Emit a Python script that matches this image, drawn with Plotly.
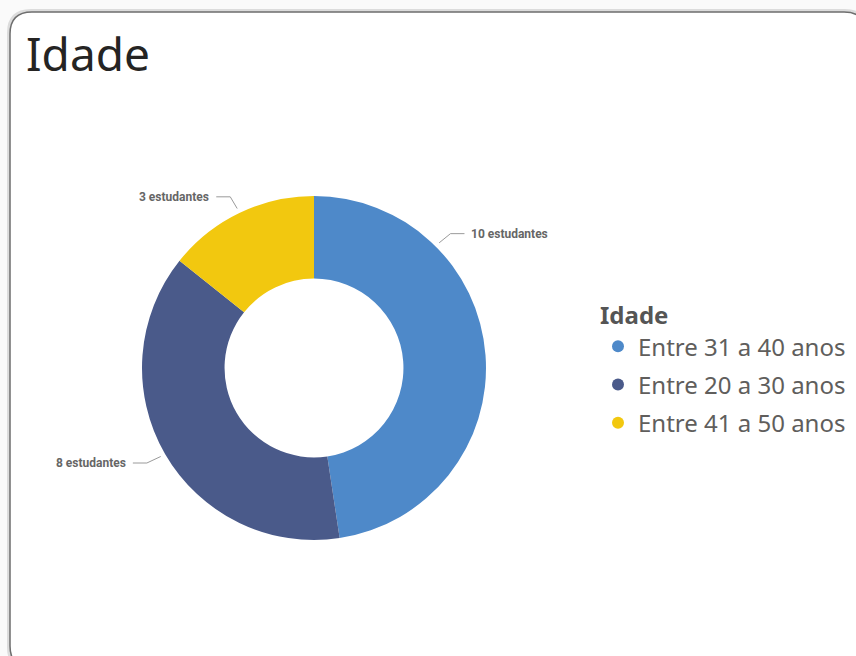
import math
import plotly.graph_objects as go

# Faixas etárias e número de estudantes
faixas = ["Entre 31 a 40 anos", "Entre 20 a 30 anos", "Entre 41 a 50 anos"]
estudantes = [10, 8, 3]
rotulos = [f"{v} estudantes" for v in estudantes]
cores = ["#4E89C9", "#4A5A8A", "#F2C80F"]

W, H = 856, 656
CX, CY, R = 314, 368, 172          # centre and outer radius of the donut (px)
HOLE = 0.52

# label placement: angle (deg, clockwise from 12 o'clock); None = middle of slice
label_angle = [45, None, None]


def px(x):
    return x / W


def py(y):
    return 1 - y / H


fig = go.Figure()

fig.add_trace(go.Pie(
    labels=faixas,
    values=estudantes,
    marker=dict(colors=cores, line=dict(width=0)),
    hole=HOLE,
    sort=False,
    direction="clockwise",
    rotation=0,
    textinfo="none",
    showlegend=False,
    domain=dict(x=[px(CX - R), px(CX + R)], y=[py(CY + R), py(CY - R)]),
    hovertemplate="%{label}: %{value}<extra></extra>",
))

# legend entries with round markers
for nome, cor in zip(faixas, cores):
    fig.add_trace(go.Scatter(
        x=[None], y=[None], mode="markers", name=nome, legendgroup=nome,
        marker=dict(symbol="circle", size=14, color=cor),
        hoverinfo="skip",
    ))

# outside labels with elbow leader lines
shapes = []
annotations = []
total = sum(estudantes)
acc = 0
for i, v in enumerate(estudantes):
    mid = (acc + v / 2) / total * 360
    acc += v
    ang = label_angle[i] if label_angle[i] is not None else mid
    t = math.radians(ang)
    s, c = math.sin(t), math.cos(t)
    x0, y0 = CX + (R + 5) * s, CY - (R + 5) * c
    x1, y1 = CX + (R + 21) * s, CY - (R + 18) * c
    side = 1 if s >= 0 else -1
    x2 = x1 + side * 14
    path = f"M{px(x0)},{py(y0)} L{px(x1)},{py(y1)} L{px(x2)},{py(y1)}"
    shapes.append(dict(type="path", xref="paper", yref="paper", path=path,
                       line=dict(color="#9a9a9a", width=1)))
    annotations.append(dict(
        x=px(x2 + side * 5), y=py(y1), xref="paper", yref="paper",
        text=f"<b>{rotulos[i]}</b>", showarrow=False,
        xanchor="left" if side > 0 else "right", yanchor="middle",
        font=dict(family="Roboto", size=12, color="#666666"),
    ))

# card outline with rounded corners
def rounded_rect(x0, y0, x1, y1, r):
    pts = [
        f"M{px(x0 + r)},{py(y0)}",
        f"L{px(x1 - r)},{py(y0)}",
        f"Q{px(x1)},{py(y0)} {px(x1)},{py(y0 + r)}",
        f"L{px(x1)},{py(y1 - r)}",
        f"Q{px(x1)},{py(y1)} {px(x1 - r)},{py(y1)}",
        f"L{px(x0 + r)},{py(y1)}",
        f"Q{px(x0)},{py(y1)} {px(x0)},{py(y1 - r)}",
        f"L{px(x0)},{py(y0 + r)}",
        f"Q{px(x0)},{py(y0)} {px(x0 + r)},{py(y0)}",
        "Z",
    ]
    return " ".join(pts)


card = [
    dict(type="path", xref="paper", yref="paper", layer="below",
         path=rounded_rect(9, 11, 867, 669, 22),
         line=dict(color="#dcdcdc", width=4)),
    dict(type="path", xref="paper", yref="paper", layer="below",
         path=rounded_rect(10, 12, 866, 668, 22),
         fillcolor="white", line=dict(color="#6e6e6e", width=1.5)),
]

annotations.append(dict(
    x=px(24), y=py(53), xref="paper", yref="paper", text="Idade",
    showarrow=False, xanchor="left", yanchor="middle",
    font=dict(family="Noto Sans", size=46, color="#252423"),
))

fig.update_layout(
    width=W, height=H,
    margin=dict(l=0, r=0, t=0, b=0),
    paper_bgcolor="#fafafa",
    plot_bgcolor="rgba(0,0,0,0)",
    xaxis=dict(visible=False),
    yaxis=dict(visible=False),
    shapes=card + shapes,
    annotations=annotations,
    legend=dict(
        x=px(598), y=py(293), xanchor="left", yanchor="top",
        title=dict(text="<b>Idade</b>",
                   font=dict(family="Noto Sans", size=24, color="#555555")),
        font=dict(family="Noto Sans", size=24, color="#605E5C"),
        bgcolor="rgba(0,0,0,0)",
        itemsizing="constant",
        tracegroupgap=4,
    ),
)

fig.write_html("out.html")
